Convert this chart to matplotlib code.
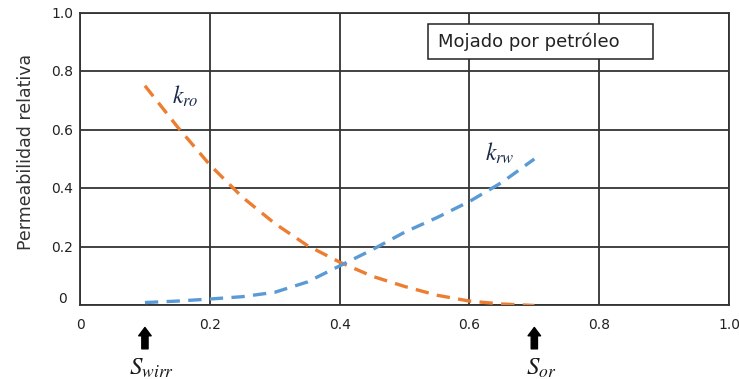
import numpy as np
import matplotlib
matplotlib.use("Agg")
import matplotlib.pyplot as plt
import matplotlib.transforms as mtransforms
from matplotlib.patches import Rectangle

# datos
sw = [0.1, 0.15, 0.2, 0.25, 0.3, 0.35, 0.4, 0.45, 0.5, 0.55, 0.6, 0.65, 0.7]
kro = [0.75, 0.61, 0.48, 0.37, 0.28, 0.205, 0.148, 0.10, 0.065, 0.035, 0.015, 0.005, 0.0]
krw = [0.01, 0.015, 0.022, 0.03, 0.045, 0.08, 0.135, 0.19, 0.25, 0.30, 0.355, 0.42, 0.50]

x_ticks = [0, 0.2, 0.4, 0.6, 0.8, 1.0]
x_ticklabels = ["0", "0.2", "0.4", "0.6", "0.8", "1.0"]
y_ticks = [0, 0.2, 0.4, 0.6, 0.8, 1.0]
y_ticklabels = ["0", "0.2", "0.4", "0.6", "0.8", "1.0"]

s_wirr = 0.1
s_or = 0.7

plt.rcParams['font.family'] = ['DejaVu Sans']
plt.rcParams['mathtext.fontset'] = 'stix'

fig = plt.figure(figsize=(7.39, 3.79), dpi=100)
ax = fig.add_axes([0.1083, 0.194, 0.8782, 0.773])

grid_col = '#333333'
ax.plot(sw, kro, color='#ED7D31', lw=2.4, dashes=(4, 2.5), zorder=3)
ax.plot(sw, krw, color='#5B9BD5', lw=2.4, dashes=(4, 2.5), zorder=3)

ax.set_xlim(0, 1.0)
ax.set_ylim(0, 1.0)
ax.set_xticks(x_ticks)
ax.set_xticklabels(x_ticklabels, fontsize=10, color='#222222')
ax.set_yticks(y_ticks)
ax.set_yticklabels([])
ax.tick_params(length=0)
ax.tick_params(axis='x', pad=9)
ax.grid(True, color=grid_col, lw=1.3)
for s in ax.spines.values():
    s.set_color(grid_col)
    s.set_linewidth(1.3)

# etiquetas del eje y, colocadas a mano como en el original
offs = {0: (-6, 7)}
for i, (v, lab) in enumerate(zip(y_ticks, y_ticklabels)):
    dx, dy = offs.get(i, (0, 0))
    tr = mtransforms.offset_copy(ax.get_yaxis_transform(), fig=fig,
                                 x=-7 + dx, y=-1 + dy, units='dots')
    ax.text(0, v, lab, transform=tr, ha='right', va='center',
            fontsize=10, color='#222222')

fig.text(0.035, 0.598, "Permeabilidad relativa", rotation=90,
         ha='center', va='center', fontsize=12.5, color='#333333')

# cuadro de texto
ax.add_patch(Rectangle((0.536, 0.841), 0.347, 0.12, transform=ax.transAxes,
                       fc='white', ec='#222222', lw=1.1, zorder=4))
ax.text(0.551, 0.9, "Mojado por petróleo", fontsize=13, color='#222222',
        ha='left', va='center', zorder=5)

ax.text(0.162, 0.715, r"$k_{ro}$", fontsize=17, color='#1a2a4a',
        ha='center', va='center')
ax.text(0.647, 0.52, r"$k_{rw}$", fontsize=17, color='#1a2a4a',
        ha='center', va='center')

# flechas de saturacion
for xv, lab in [(s_wirr, r"$S_{wirr}$"), (s_or, r"$S_{or}$")]:
    ax.annotate("", xy=(xv, -0.075), xytext=(xv, -0.148),
                xycoords=('data', 'axes fraction'),
                textcoords=('data', 'axes fraction'),
                arrowprops=dict(arrowstyle='simple,head_width=0.9,head_length=0.6,tail_width=0.45',
                                color='black', shrinkA=0, shrinkB=0))
    ax.text(xv + 0.01, -0.215, lab, transform=ax.get_xaxis_transform(),
            ha='center', va='center', fontsize=18, color='#1a1a1a',
            clip_on=False)

fig.savefig("out.png", dpi=100)
